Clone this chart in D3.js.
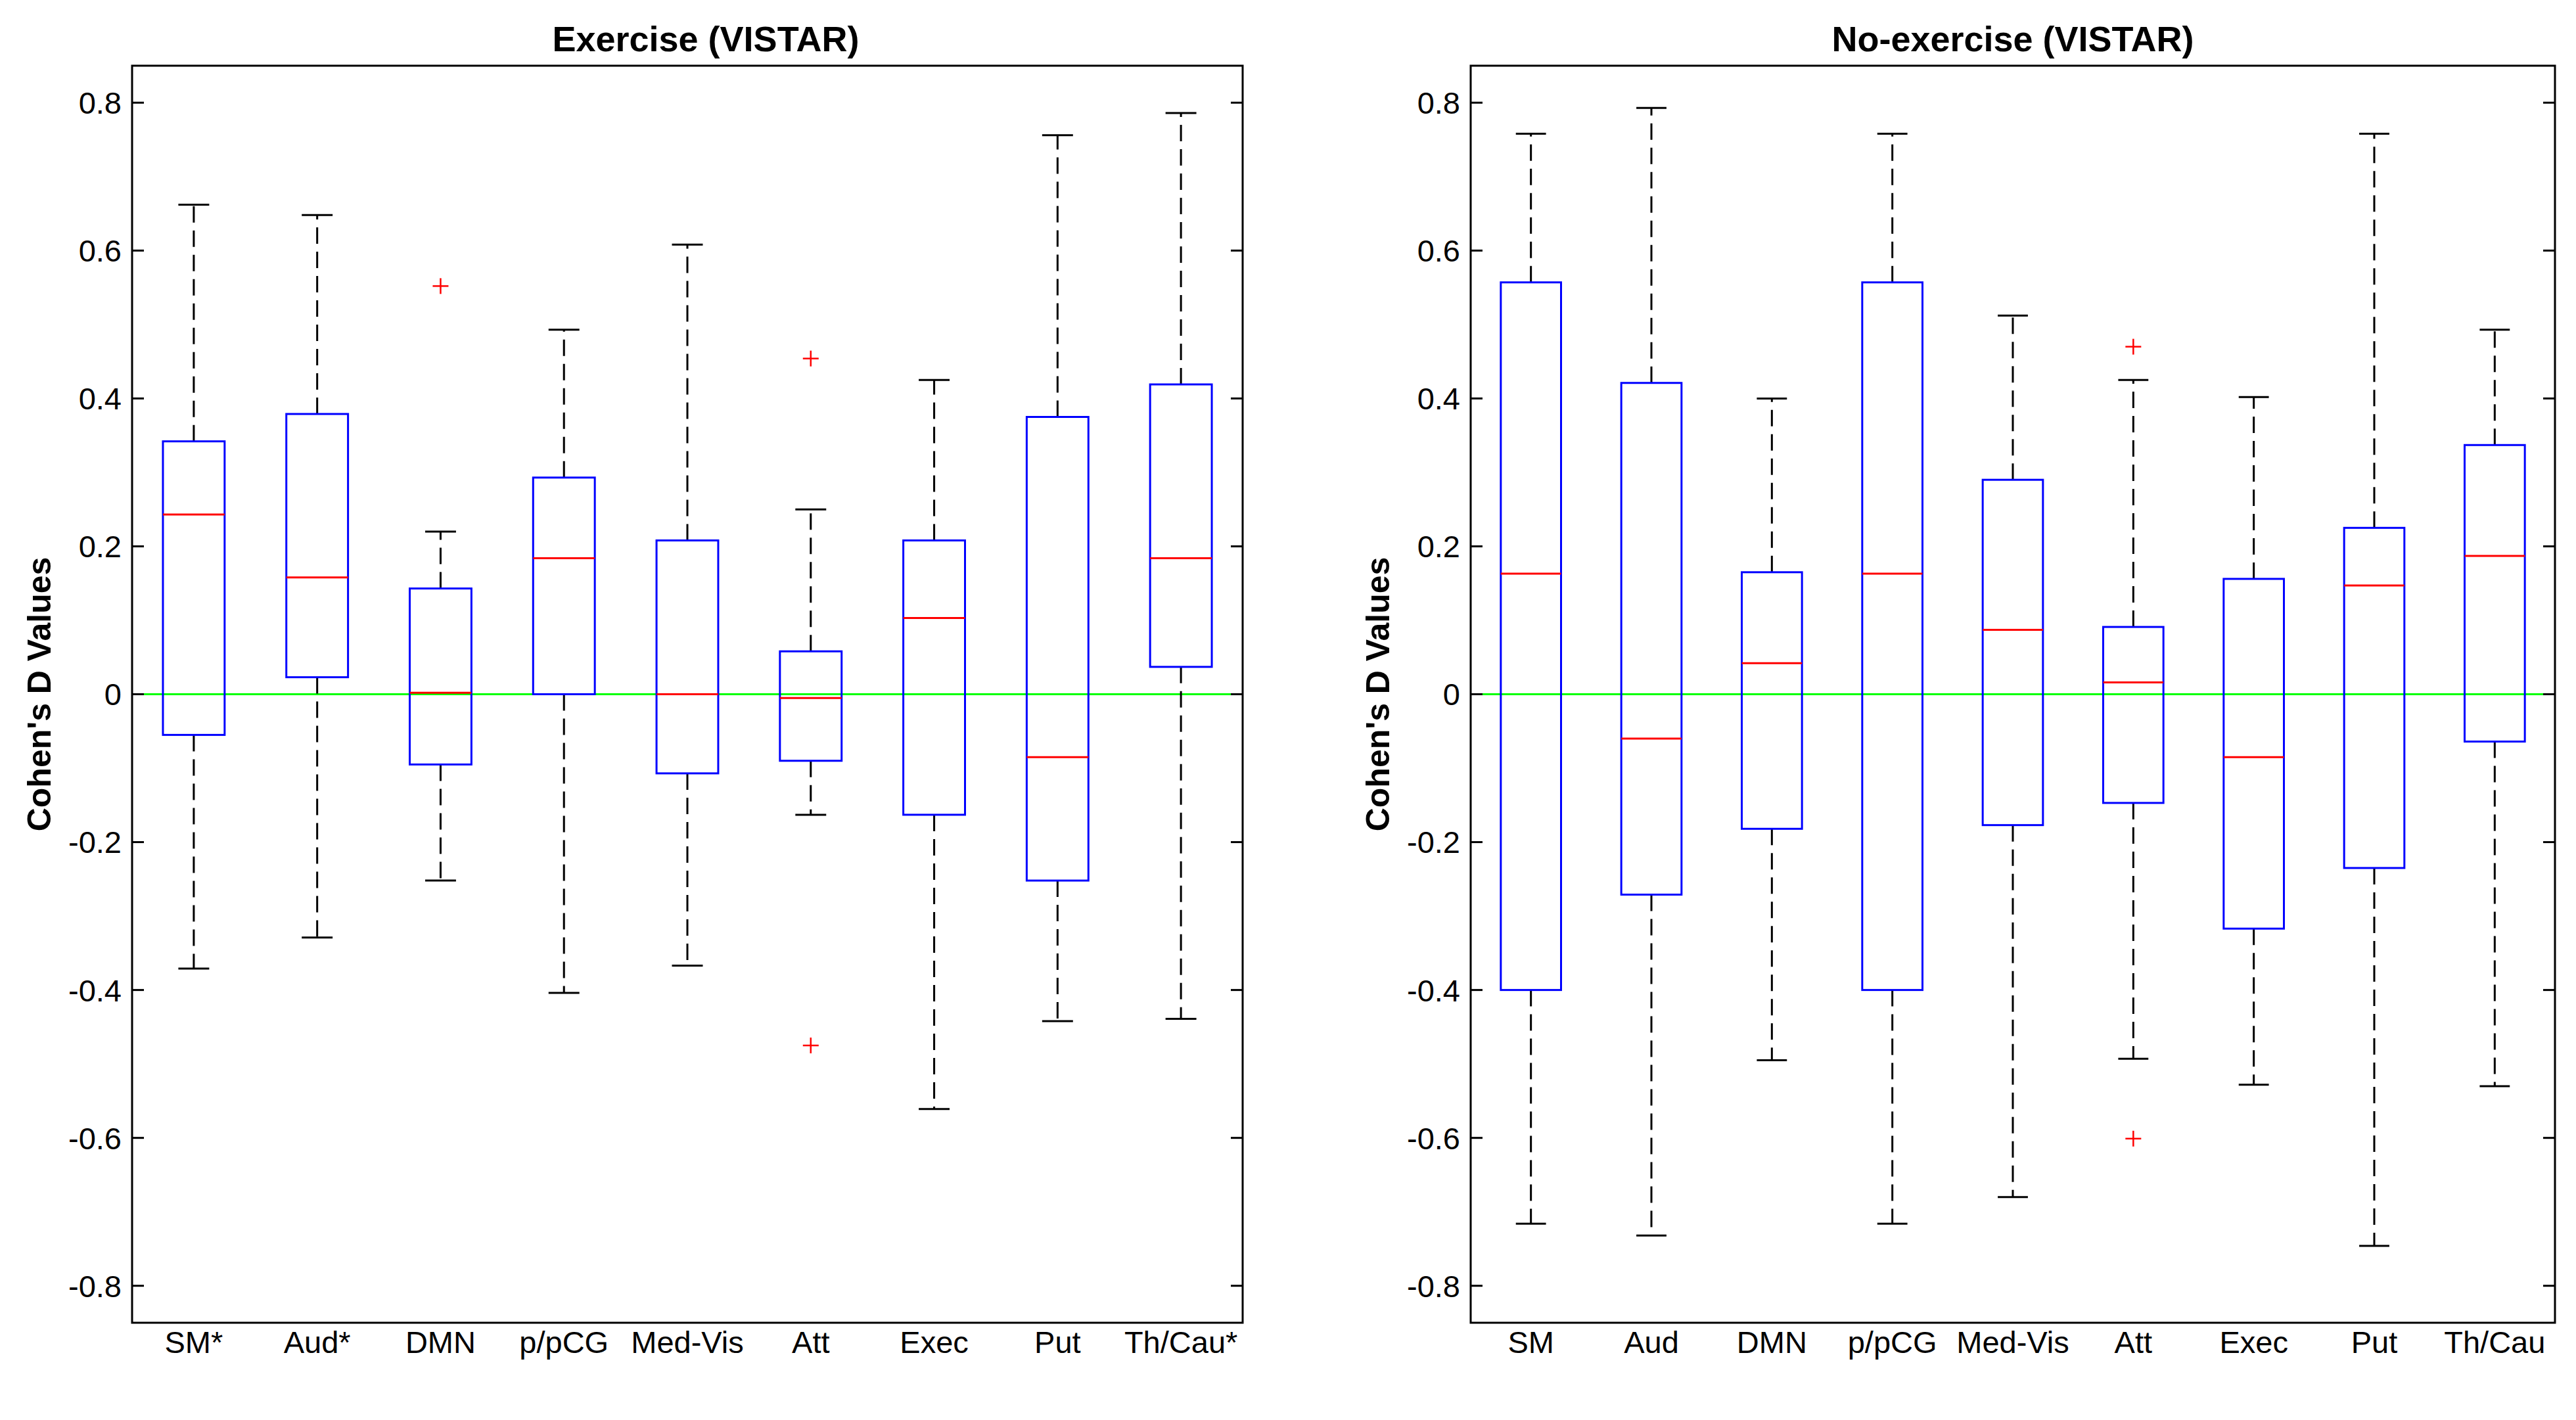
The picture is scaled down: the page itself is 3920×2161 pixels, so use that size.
<!DOCTYPE html>
<html lang="en">
<head>
    <meta charset="UTF-8">
    <title>Cohen's D boxplots (VISTAR)</title>
    <script src="https://d3js.org/d3.v7.min.js"></script>
    <style>
        body { margin: 0; background: #fff; }
        text { font-family: "Liberation Sans", Arial, sans-serif; fill: #000; }
        .title { font-size: 54px; font-weight: bold; }
        .ylabel { font-size: 50px; font-weight: bold; }
        .tick-label { font-size: 47px; }
        .frame { fill: none; stroke: #000; stroke-width: 3; }
        .tick { stroke: #000; stroke-width: 3; }
        .zero-line { stroke: #00ff00; stroke-width: 3; }
        .box { fill: none; stroke: #0000ff; stroke-width: 3; }
        .median { stroke: #ff0000; stroke-width: 3; }
        .whisker { stroke: #000; stroke-width: 3; stroke-dasharray: 25 12; }
        .cap { stroke: #000; stroke-width: 3; }
        .outlier { stroke: #ff0000; stroke-width: 2.5; }
    </style>
</head>
<body>
    <svg id="chart" width="3920" height="2161"></svg>

    <script>
        // Categories (networks) for each panel
        const exerciseLabels = ["SM*", "Aud*", "DMN", "p/pCG", "Med-Vis", "Att", "Exec", "Put", "Th/Cau*"];
        const noExerciseLabels = ["SM", "Aud", "DMN", "p/pCG", "Med-Vis", "Att", "Exec", "Put", "Th/Cau"];

        // Exercise (VISTAR): whisker low, Q1, median, Q3, whisker high
        const exLower  = [-0.371, -0.329, -0.252, -0.404, -0.367, -0.163, -0.561, -0.442, -0.439];
        const exQ1     = [-0.055,  0.023, -0.095,  0.000, -0.107, -0.090, -0.163, -0.252,  0.037];
        const exMedian = [ 0.243,  0.158,  0.002,  0.184,  0.000, -0.005,  0.103, -0.085,  0.184];
        const exQ3     = [ 0.342,  0.379,  0.143,  0.293,  0.208,  0.058,  0.208,  0.375,  0.419];
        const exUpper  = [ 0.662,  0.648,  0.220,  0.493,  0.608,  0.250,  0.425,  0.756,  0.786];
        // outliers: [category index, value]
        const exOutliers = [[2, 0.552], [5, 0.454], [5, -0.475]];

        // No-exercise (VISTAR)
        const noLower  = [-0.716, -0.732, -0.495, -0.716, -0.680, -0.493, -0.528, -0.746, -0.530];
        const noQ1     = [-0.400, -0.271, -0.182, -0.400, -0.177, -0.147, -0.317, -0.235, -0.064];
        const noMedian = [ 0.163, -0.060,  0.042,  0.163,  0.087,  0.016, -0.085,  0.147,  0.187];
        const noQ3     = [ 0.557,  0.421,  0.165,  0.557,  0.290,  0.091,  0.156,  0.225,  0.337];
        const noUpper  = [ 0.758,  0.793,  0.400,  0.758,  0.512,  0.425,  0.402,  0.758,  0.493];
        const noOutliers = [[5, 0.470], [5, -0.601]];

        const yTicks = [-0.8, -0.6, -0.4, -0.2, 0, 0.2, 0.4, 0.6, 0.8];
        const yDomain = [-0.85, 0.85];

        const svg = d3.select("#chart");
        // MATLAB style labels: plain hyphen for negatives, "0" for zero
        const fmt = d => d === 0 ? "0" : d.toFixed(1);

        function drawPanel(opts) {
            const labels = opts.labels;
            const rows = labels.map((name, i) => ({
                name: name, i: i + 1,
                lo: opts.lower[i], q1: opts.q1[i], med: opts.median[i],
                q3: opts.q3[i], hi: opts.upper[i]
            }));

            const x = d3.scaleLinear().domain([0.5, labels.length + 0.5]).range([opts.left, opts.right]);
            const y = d3.scaleLinear().domain(yDomain).range([opts.bottom, opts.top]);
            const g = svg.append("g");

            const boxHalf = 0.25, capHalf = 0.125;

            // zero reference line
            g.append("line").attr("class", "zero-line")
                .attr("x1", opts.left).attr("x2", opts.right)
                .attr("y1", y(0)).attr("y2", y(0));

            // whiskers (dashed)
            g.selectAll(".whisker-up").data(rows).enter().append("line")
                .attr("class", "whisker")
                .attr("x1", d => x(d.i)).attr("x2", d => x(d.i))
                .attr("y1", d => y(d.q3)).attr("y2", d => y(d.hi));
            g.selectAll(".whisker-down").data(rows).enter().append("line")
                .attr("class", "whisker")
                .attr("x1", d => x(d.i)).attr("x2", d => x(d.i))
                .attr("y1", d => y(d.q1)).attr("y2", d => y(d.lo));

            // caps
            ["hi", "lo"].forEach(k => {
                g.selectAll(".cap-" + k).data(rows).enter().append("line")
                    .attr("class", "cap")
                    .attr("x1", d => x(d.i - capHalf)).attr("x2", d => x(d.i + capHalf))
                    .attr("y1", d => y(d[k])).attr("y2", d => y(d[k]));
            });

            // boxes
            g.selectAll(".box").data(rows).enter().append("rect")
                .attr("class", "box")
                .attr("x", d => x(d.i - boxHalf))
                .attr("width", d => x(d.i + boxHalf) - x(d.i - boxHalf))
                .attr("y", d => y(d.q3))
                .attr("height", d => y(d.q1) - y(d.q3));

            // medians
            g.selectAll(".median").data(rows).enter().append("line")
                .attr("class", "median")
                .attr("x1", d => x(d.i - boxHalf)).attr("x2", d => x(d.i + boxHalf))
                .attr("y1", d => y(d.med)).attr("y2", d => y(d.med));

            // outliers as red plus signs
            const outl = g.selectAll(".outlier").data(opts.outliers).enter().append("g")
                .attr("class", "outlier")
                .attr("transform", d => `translate(${x(d[0] + 1)},${y(d[1])})`);
            outl.append("line").attr("x1", -12).attr("x2", 12).attr("y1", 0).attr("y2", 0);
            outl.append("line").attr("x1", 0).attr("x2", 0).attr("y1", -12).attr("y2", 12);

            // frame
            g.append("rect").attr("class", "frame")
                .attr("x", opts.left).attr("y", opts.top)
                .attr("width", opts.right - opts.left).attr("height", opts.bottom - opts.top);

            // y ticks on both sides, pointing inward
            const tickLen = 18;
            g.selectAll(".tick-l").data(yTicks).enter().append("line")
                .attr("class", "tick")
                .attr("x1", opts.left).attr("x2", opts.left + tickLen)
                .attr("y1", d => y(d)).attr("y2", d => y(d));
            g.selectAll(".tick-r").data(yTicks).enter().append("line")
                .attr("class", "tick")
                .attr("x1", opts.right).attr("x2", opts.right - tickLen)
                .attr("y1", d => y(d)).attr("y2", d => y(d));

            // y tick labels
            g.selectAll(".ytl").data(yTicks).enter().append("text")
                .attr("class", "tick-label")
                .attr("x", opts.left - 16)
                .attr("y", d => y(d))
                .attr("dy", "0.36em")
                .attr("text-anchor", "end")
                .text(fmt);

            // x tick labels
            g.selectAll(".xtl").data(rows).enter().append("text")
                .attr("class", "tick-label")
                .attr("x", d => x(d.i))
                .attr("y", opts.bottom + 46)
                .attr("text-anchor", "middle")
                .text(d => d.name);

            // title
            g.append("text").attr("class", "title")
                .attr("x", (opts.left + opts.right) / 2 + opts.titleShift)
                .attr("y", 78)
                .attr("text-anchor", "middle")
                .text(opts.title);

            // y label
            g.append("text").attr("class", "ylabel")
                .attr("transform", `translate(${opts.left - 124},${(opts.top + opts.bottom) / 2}) rotate(-90)`)
                .attr("text-anchor", "middle")
                .text("Cohen's D Values");
        }

        drawPanel({
            title: "Exercise (VISTAR)", titleShift: 28,
            labels: exerciseLabels,
            lower: exLower, q1: exQ1, median: exMedian, q3: exQ3, upper: exUpper,
            outliers: exOutliers,
            left: 201, right: 1891, top: 100, bottom: 2013
        });

        drawPanel({
            title: "No-exercise (VISTAR)", titleShift: 0,
            labels: noExerciseLabels,
            lower: noLower, q1: noQ1, median: noMedian, q3: noQ3, upper: noUpper,
            outliers: noOutliers,
            left: 2238, right: 3888, top: 100, bottom: 2013
        });
    </script>
</body>
</html>
